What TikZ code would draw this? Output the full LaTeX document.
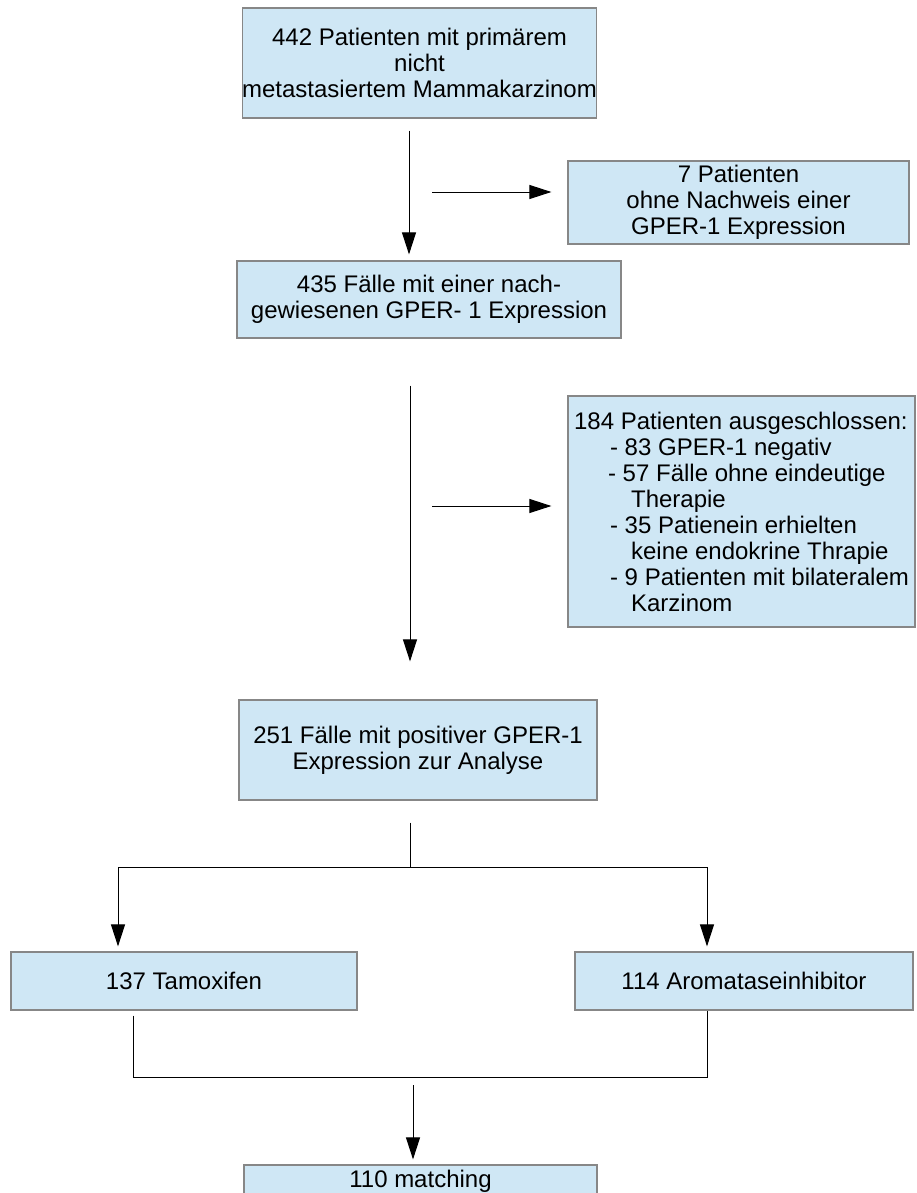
\documentclass[tikz,border=0pt]{standalone}
\usepackage{fontspec}
\setmainfont{Liberation Sans}
\usetikzlibrary{arrows.meta}
\definecolor{boxblue}{RGB}{207,231,245}
\definecolor{boxgray}{RGB}{135,135,135}

\begin{document}
\begin{tikzpicture}[x=0.5pt, y=-0.5pt,
    box/.style={draw=boxgray, line width=0.6pt, fill=boxblue, inner sep=0pt,
        align=center, font=\fontsize{12}{13}\selectfont},
    line/.style={line width=0.5pt},
    arr/.style={line, -{Triangle[length=11pt, width=7pt]}}]
    \useasboundingbox (0,0) rectangle (916,1193);
    \clip (0,0) rectangle (916,1193);
    \node[box, minimum width=176.5pt, minimum height=55pt] (start) at (419.5,63)
        {442 Patienten mit primärem\\ nicht\\ metastasiertem Mammakarzinom};
    \node[box, minimum width=170.5pt, minimum height=41.5pt] (noexpr) at (738.5,202.5)
        {7 Patienten\\ ohne Nachweis einer\\ GPER-1 Expression};
    \node[box, minimum width=192pt, minimum height=38.5pt] (expr) at (429,299.5)
        {435 Fälle mit einer nach-\\ gewiesenen GPER- 1 Expression};
    \node[box, align=left, minimum width=173.5pt, minimum height=115.5pt] (excl) at (741.5,511.5)
        {184 Patienten ausgeschlossen:\\
        \hspace*{18pt}- 83 GPER-1 negativ\\
        \hspace*{17pt}- 57 Fälle ohne eindeutige\\
        \hspace*{28.5pt}Therapie\\
        \hspace*{18pt}- 35 Patienein erhielten\\
        \hspace*{28.5pt}keine endokrine Thrapie\\
        \hspace*{18pt}- 9 Patienten mit bilateralem\\
        \hspace*{28.5pt}Karzinom};
    \node[box, minimum width=179pt, minimum height=50pt] (analyse) at (418,750)
        {251 Fälle mit positiver GPER-1\\ Expression zur Analyse};
    \node[box, minimum width=173pt, minimum height=29pt] (tam) at (184,981) {137 Tamoxifen};
    \node[box, minimum width=169pt, minimum height=29pt] (ai) at (744,981) {114 Aromataseinhibitor};
    \node[box, minimum width=176.5pt, minimum height=16pt] (match) at (420.5,1181) {110 matching};

    \coordinate (m1) at (409,0);
    \coordinate (m2) at (410,0);
    \coordinate (s1) at (432,192);
    \coordinate (s2) at (432,506);
    \coordinate (j1) at (410,867);
    \coordinate (l1) at (118,867);
    \coordinate (r1) at (707,867);
    \coordinate (l2) at (133,1077);
    \coordinate (r2) at (707,1077);
    \coordinate (j2) at (413,1077);

    \draw[arr, shorten <=6pt, shorten >=3pt] (start.south -| m1) -- (expr.north -| m1);
    \draw[arr, shorten >=8pt] (s1) -- (s1 -| noexpr.west);
    \draw[arr, shorten <=23.5pt, shorten >=19pt] (expr.south -| m2) -- (analyse.north -| m2);
    \draw[arr, shorten >=8pt] (s2) -- (s2 -| excl.west);
    \draw[line, shorten <=11pt] (analyse.south -| j1) -- (j1);
    \draw[line] (l1) -- (r1);
    \draw[arr, shorten >=2.5pt] (l1) -- (l1 |- tam.north);
    \draw[arr, shorten >=2.5pt] (r1) -- (r1 |- ai.north);
    \draw[line, shorten <=2.5pt] (tam.south -| l2) -- (l2) -- (r2) -- (r2 |- ai.south);
    \draw[arr, shorten <=4pt, shorten >=2.5pt] (j2) -- (j2 |- match.north);
\end{tikzpicture}
\end{document}
